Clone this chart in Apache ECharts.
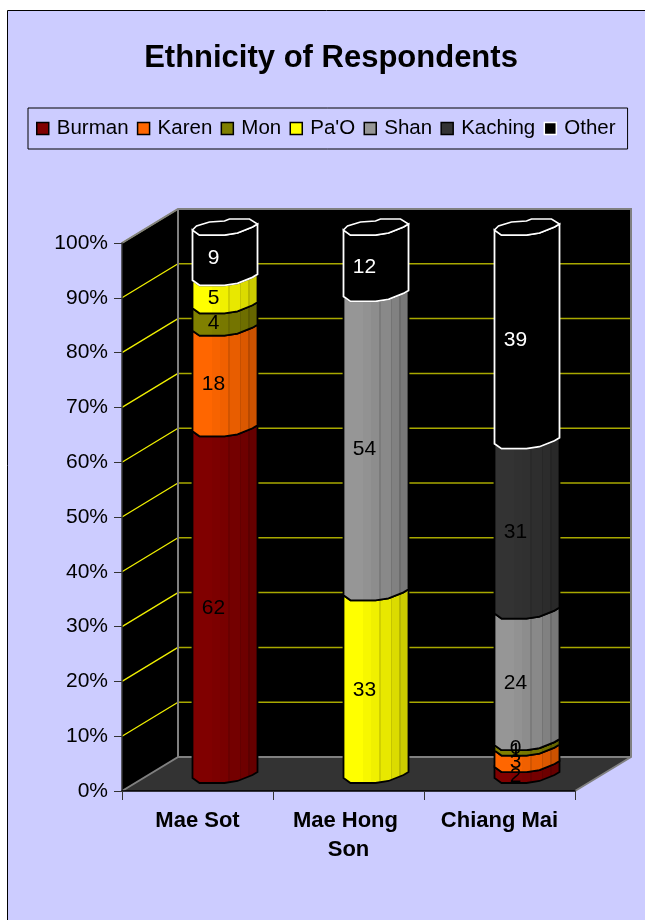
<!DOCTYPE html>
<html>
<head>
<meta charset="utf-8">
<style>
  html, body { margin: 0; padding: 0; background: #fff; overflow: hidden; }
  #main { width: 645px; height: 920px; }
</style>
<script src="https://cdn.jsdelivr.net/npm/echarts@6/dist/echarts.min.js"></script>
</head>
<body>
<div id="main"></div>
<script>
var categories = ['Mae Sot', 'Mae Hong Son', 'Chiang Mai']
var burman = [62, null, 2]
var karen = [18, null, 3]
var mon = [4, null, 1]
var pao = [5, 33, 0]
var shan = [null, 54, 24]
var kaching = [null, null, 31]
var other = [9, 12, 39]
var yTicks = [10, 20, 30, 40, 50, 60, 70, 80, 90, 100]

var groupNames = ['Burman', 'Karen', 'Mon', "Pa'O", 'Shan', 'Kaching', 'Other']
var groupValues = [burman, karen, mon, pao, shan, kaching, other]
var groupColors = ['#800000', '#ff6600', '#808000', '#ffff00', '#969696', '#333333', '#000000']

// 3d look of the box and the cylinders
var DEPTH_X = 56
var DEPTH_Y = -34
var FRONT = [[-33, 4], [-26, 9], [-1, 9], [12, 7], [27, 1], [32, -2]]
var BACK = [[-33, 4], [-29, 0], [-16, -4], [-1, -5], [4, -7], [24, -7], [32, -2]]
var FACETS = [[0, 1], [0.3, 0.97], [0.42, 0.94], [0.55, 0.91], [0.72, 0.86], [0.85, 0.8], [1, 0.8]]

function shade (hex, k) {
  var n = parseInt(hex.slice(1), 16)
  var r = Math.round((n >> 16 & 255) * k)
  var g = Math.round((n >> 8 & 255) * k)
  var b = Math.round((n & 255) * k)
  return 'rgb(' + r + ',' + g + ',' + b + ')'
}

function facetFill (hex) {
  var stops = []
  for (var i = 0; i < FACETS.length - 1; i++) {
    var from = FACETS[i][0]
    var to = FACETS[i + 1][0]
    var col = shade(hex, FACETS[i][1])
    // right hand facets have a thin darker seam
    if (from >= 0.55) {
      stops.push({ offset: from, color: shade(hex, FACETS[i][1] * 0.9) })
      stops.push({ offset: from + 0.02, color: shade(hex, FACETS[i][1] * 0.9) })
      stops.push({ offset: from + 0.02, color: col })
    } else {
      stops.push({ offset: from, color: col })
    }
    stops.push({ offset: to, color: col })
  }
  return { type: 'linear', x: 0, y: 0, x2: 1, y2: 0, colorStops: stops }
}

// turn raw values into [category, from %, to %, value] for each group
function stackRows (g) {
  var rows = []
  categories.forEach(function (c, i) {
    if (groupValues[g][i] === null) return
    var total = 0
    var before = 0
    groupValues.forEach(function (vals, k) {
      total += vals[i] || 0
      if (k < g) before += vals[i] || 0
    })
    rows.push([i, before / total * 100, (before + groupValues[g][i]) / total * 100, groupValues[g][i]])
  })
  return rows
}

function renderCylinder (g) {
  var isOther = groupNames[g] === 'Other'
  return function (params, api) {
    var low = api.coord([api.value(0), api.value(1)])
    var high = api.coord([api.value(0), api.value(2)])
    var cx = low[0] + DEPTH_X / 2
    var yLow = low[1] + DEPTH_Y / 2
    var yHigh = high[1] + DEPTH_Y / 2
    var body = []
    FRONT.forEach(function (p) { body.push([cx + p[0], yLow + p[1]]) })
    FRONT.slice().reverse().forEach(function (p) { body.push([cx + p[0], yHigh + p[1]]) })
    var line = isOther ? '#ffffff' : '#000000'
    var children = [{
      type: 'polygon',
      z2: g + 1,
      shape: { points: body },
      style: { fill: isOther ? '#000000' : facetFill(groupColors[g]), stroke: line, lineWidth: 1.8 }
    }]
    if (isOther) {
      var cap = []
      FRONT.forEach(function (p) { cap.push([cx + p[0], yHigh + p[1]]) })
      BACK.slice().reverse().forEach(function (p) { cap.push([cx + p[0], yHigh + p[1]]) })
      children.push({
        type: 'polygon',
        z2: g + 2,
        shape: { points: cap },
        style: { fill: '#000000', stroke: '#ffffff', lineWidth: 1.5 }
      })
    }
    children.push({
      type: 'text',
      z2: 100,
      style: {
        text: String(api.value(3)),
        x: cx - 12,
        y: (yLow + yHigh) / 2 + 7.5,
        fill: isOther ? '#ffffff' : '#000000',
        font: '21px "Liberation Sans", Arial, sans-serif',
        textAlign: 'center',
        verticalAlign: 'middle'
      }
    })
    return { type: 'group', children: children }
  }
}

// black side wall + back wall, grey floor
function renderWalls (params) {
  var r = params.coordSys
  var l = r.x
  var t = r.y
  var b = r.y + r.height
  var e = r.x + r.width
  var edge = { stroke: '#808080', lineWidth: 2, fill: null }
  return {
    type: 'group',
    children: [
      { type: 'polygon', shape: { points: [[l, t], [l + DEPTH_X, t + DEPTH_Y], [l + DEPTH_X, b + DEPTH_Y], [l, b]] }, style: { fill: '#000000' } },
      { type: 'polygon', shape: { points: [[l + DEPTH_X, t + DEPTH_Y], [e + DEPTH_X, t + DEPTH_Y], [e + DEPTH_X, b + DEPTH_Y], [l + DEPTH_X, b + DEPTH_Y]] }, style: { fill: '#000000' } },
      { type: 'polygon', shape: { points: [[l, b], [l + DEPTH_X, b + DEPTH_Y], [e + DEPTH_X, b + DEPTH_Y], [e, b]] }, style: { fill: '#333333' } },
      { type: 'polyline', z2: 10, shape: { points: [[l, t], [l + DEPTH_X, t + DEPTH_Y], [e + DEPTH_X, t + DEPTH_Y], [e + DEPTH_X, b + DEPTH_Y], [e, b]] }, style: edge },
      { type: 'polyline', z2: 10, shape: { points: [[l, b], [l + DEPTH_X, b + DEPTH_Y], [l + DEPTH_X, t + DEPTH_Y]] }, style: edge },
      { type: 'line', z2: 10, shape: { x1: l + DEPTH_X, y1: b + DEPTH_Y, x2: e + DEPTH_X, y2: b + DEPTH_Y }, style: edge }
    ]
  }
}

function renderGridLine (params, api) {
  var r = params.coordSys
  var y = api.coord([0, api.value(0)])[1]
  return {
    type: 'group',
    children: [
      { type: 'line', z2: 5, shape: { x1: r.x, y1: y, x2: r.x + DEPTH_X, y2: y + DEPTH_Y }, style: { stroke: '#f0f000', lineWidth: 1.3 } },
      { type: 'line', z2: 5, shape: { x1: r.x + DEPTH_X, y1: y + DEPTH_Y, x2: r.x + r.width + DEPTH_X, y2: y + DEPTH_Y }, style: { stroke: '#a8a800', lineWidth: 1.5 } }
    ]
  }
}

var series = [
  { type: 'custom', name: 'walls', z: 1, silent: true, data: [[0]], renderItem: renderWalls },
  { type: 'custom', name: 'gridlines', z: 1, silent: true, data: yTicks.map(function (t) { return [t] }), renderItem: renderGridLine }
]
groupNames.forEach(function (name, g) {
  series.push({
    type: 'custom',
    name: name,
    z: 3,
    silent: true,
    itemStyle: { color: groupColors[g] },
    data: stackRows(g),
    renderItem: renderCylinder(g)
  })
})

var myChart = echarts.init(document.getElementById('main'))
myChart.setOption({
  animation: false,
  backgroundColor: '#ffffff',
  graphic: [{
    type: 'rect',
    z: -10,
    silent: true,
    shape: { x: 7.5, y: 10.5, width: 700, height: 1000 },
    style: { fill: '#ccccff', stroke: '#000000', lineWidth: 1 }
  }],
  title: {
    text: 'Ethnicity of Respondents',
    left: 326,
    top: 38,
    textAlign: 'center',
    textStyle: { fontFamily: '"Liberation Sans", Arial, sans-serif', fontWeight: 'bold', fontSize: 31, color: '#000' }
  },
  legend: {
    left: 28,
    top: 108,
    width: 600,
    padding: [10, 12, 10, 8],
    icon: 'rect',
    itemWidth: 12,
    itemHeight: 12,
    itemGap: 8.3,
    borderColor: '#000',
    borderWidth: 1,
    backgroundColor: '#ccccff',
    selectedMode: false,
    itemStyle: { borderColor: '#000', borderWidth: 1.5 },
    textStyle: { fontFamily: '"Liberation Sans", Arial, sans-serif', fontSize: 20.5, color: '#000', padding: [0, 0, 0, 3] },
    data: groupNames.map(function (name) {
      if (name === 'Other') return { name: name, itemStyle: { borderColor: '#fff', borderWidth: 1.5 } }
      return { name: name }
    })
  },
  grid: { left: 122, top: 243, width: 453, height: 548 },
  xAxis: {
    type: 'category',
    data: categories,
    z: 5,
    axisLine: { lineStyle: { color: '#000', width: 1.5 } },
    axisTick: { show: true, length: 9, alignWithLabel: false, lineStyle: { color: '#333' } },
    axisLabel: {
      interval: 0,
      margin: 15,
      width: 125,
      overflow: 'break',
      lineHeight: 29,
      color: '#000',
      fontFamily: '"Liberation Sans", Arial, sans-serif',
      fontWeight: 'bold',
      fontSize: 22
    }
  },
  yAxis: {
    type: 'value',
    min: 0,
    max: 100,
    interval: 10,
    z: 5,
    splitLine: { show: false },
    axisLine: { show: true, lineStyle: { color: '#333', width: 1.5 } },
    axisTick: { show: true, length: 8, lineStyle: { color: '#333' } },
    axisLabel: {
      margin: 14,
      padding: [2, 0, 0, 0],
      color: '#000',
      fontFamily: '"Liberation Sans", Arial, sans-serif',
      fontSize: 21,
      formatter: '{value}%'
    }
  },
  series: series
})
</script>
</body>
</html>
